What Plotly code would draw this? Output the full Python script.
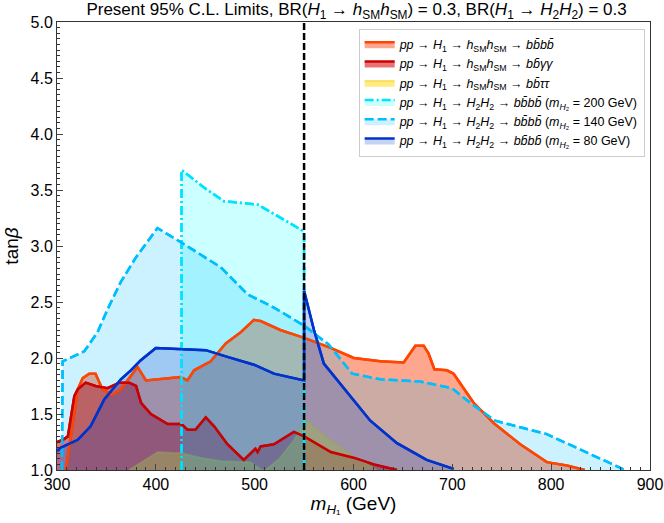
import plotly.graph_objects as go

# ---- data ----
x_bbbb = [309, 315, 321, 326, 332.6, 339, 346, 356, 364.6, 373, 381.5, 390, 425, 432, 438.7, 455.6,
          470.7, 485.9, 499.3, 506, 526, 550, 576.8, 600.3, 627, 650.8, 662.6, 671, 676, 681.8,
          694.6, 701.3, 721.5, 741.7, 768.7, 795.6, 815.9, 834]
y_bbbb = [1.0, 1.35, 1.72, 1.82, 1.86, 1.86, 1.72, 1.67, 1.72, 1.82, 1.92, 1.80, 1.83, 1.80, 1.89, 1.97,
          2.13, 2.23, 2.34, 2.33, 2.25, 2.18, 2.09, 2.00, 1.97, 1.96, 2.11, 2.11, 2.04, 1.90,
          1.89, 1.86, 1.60, 1.42, 1.23, 1.07, 1.04, 1.0]

x_bbgg = [300, 306, 311, 317.5, 321, 329, 339, 351, 363, 373, 380, 385, 395, 412, 426, 432, 440,
          450.5, 459, 472.4, 489, 500.8, 503, 506, 519.5, 539.7, 550, 577, 600, 620.5, 644]
y_bbgg = [1.25, 1.27, 1.30, 1.66, 1.72, 1.78, 1.75, 1.73, 1.78, 1.78, 1.75, 1.60, 1.50, 1.41, 1.41, 1.36, 1.36,
          1.47, 1.39, 1.23, 1.09, 1.19, 1.16, 1.21, 1.23, 1.34, 1.30, 1.16, 1.11, 1.05, 1.0]

x_bbtt = [373, 401.7, 426, 445, 467, 496, 507, 511, 525, 540, 551.5, 575, 600, 624]
y_bbtt = [1.0, 1.16, 1.15, 1.11, 1.08, 1.07, 1.0, 1.0, 1.1, 1.27, 1.45, 1.28, 1.12, 1.0]

x_m200 = [426, 426, 449, 469, 503, 550, 550]
y_m200 = [1.0, 3.68, 3.52, 3.40, 3.37, 3.13, 1.0]

x_m140 = [305, 305.7, 327.6, 341, 352, 364.6, 380, 401.7, 426, 465.7, 492.6, 519.5, 549.8, 575,
          598.7, 627, 667.7, 699.7, 718, 743.4, 795.6, 836, 874.7]
y_m140 = [1.0, 1.97, 2.06, 2.23, 2.45, 2.68, 2.90, 3.16, 3.03, 2.81, 2.57, 2.45, 2.29, 2.12,
          1.86, 1.81, 1.79, 1.73, 1.60, 1.44, 1.32, 1.16, 1.0]

x_m80 = [300, 304, 321, 334, 347.8, 364.6, 374.7, 384.8, 400, 426, 450.5, 472.4, 499.3, 519.5,
         550, 550, 560, 570, 593.6, 617, 644, 674, 701.3]
y_m80 = [1.17, 1.20, 1.27, 1.39, 1.63, 1.81, 1.89, 1.98, 2.09, 2.08, 2.07, 2.01, 1.94, 1.86,
         1.80, 2.60, 2.25, 1.95, 1.69, 1.44, 1.24, 1.09, 1.01]

x_kin = 550  # kinematic threshold line

names = [
    "<i>pp</i> → <i>H</i><sub>1</sub> → <i>h</i><sub>SM</sub><i>h</i><sub>SM</sub> → <i>bb̄bb̄</i>",
    "<i>pp</i> → <i>H</i><sub>1</sub> → <i>h</i><sub>SM</sub><i>h</i><sub>SM</sub> → <i>bb̄γγ</i>",
    "<i>pp</i> → <i>H</i><sub>1</sub> → <i>h</i><sub>SM</sub><i>h</i><sub>SM</sub> → <i>bb̄ττ</i>",
    "<i>pp</i> → <i>H</i><sub>1</sub> → <i>H</i><sub>2</sub><i>H</i><sub>2</sub> → <i>bb̄bb̄</i> (<i>m</i><sub><i>H</i>₂</sub> = 200 GeV)",
    "<i>pp</i> → <i>H</i><sub>1</sub> → <i>H</i><sub>2</sub><i>H</i><sub>2</sub> → <i>bb̄bb̄</i> (<i>m</i><sub><i>H</i>₂</sub> = 140 GeV)",
    "<i>pp</i> → <i>H</i><sub>1</sub> → <i>H</i><sub>2</sub><i>H</i><sub>2</sub> → <i>bb̄bb̄</i> (<i>m</i><sub><i>H</i>₂</sub> = 80 GeV)",
]

# (x, y, line colour, fill colour, dash, line width, redraw line on top)
series = [
    (x_bbbb, y_bbbb, "rgb(255,69,0)", "rgba(255,80,30,0.5)", "solid", 2.5, True),
    (x_bbgg, y_bbgg, "rgb(204,0,0)", "rgba(215,0,0,0.55)", "solid", 2.5, True),
    (x_bbtt, y_bbtt, "rgba(240,200,0,0.45)", "rgba(255,215,0,0.5)", "solid", 1.8, False),
    (x_m200, y_m200, "rgb(0,229,255)", "rgba(0,255,255,0.2)", "9px,3px,2px,3px", 2.5, True),
    (x_m140, y_m140, "rgb(0,191,255)", "rgba(0,191,255,0.2)", "9px,4px", 2.5, True),
    (x_m80, y_m80, "rgb(0,51,204)", "rgba(0,56,202,0.22)", "solid", 2.5, True),
]

fig = go.Figure()
for (xs, ys, lc, fc, dash, lw, top), nm in zip(series, names):
    fig.add_trace(go.Scatter(x=xs, y=ys, mode="lines", fill="tozeroy", fillcolor=fc,
                             line=dict(color=lc, width=lw, dash=dash), name=nm,
                             hoverinfo="skip"))
# lines on top of all fills
for (xs, ys, lc, fc, dash, lw, top) in series:
    if top:
        fig.add_trace(go.Scatter(x=xs, y=ys, mode="lines",
                                 line=dict(color=lc, width=lw, dash=dash),
                                 showlegend=False, hoverinfo="skip"))

fig.add_shape(type="line", xref="x", yref="paper", x0=x_kin, x1=x_kin, y0=0, y1=1,
              line=dict(color="black", width=2.5, dash="7px,3px"), layer="above")

font_family = "Liberation Sans, Arial, sans-serif"
fig.update_layout(
    width=664, height=523,
    margin=dict(l=57, r=14, t=22, b=53, autoexpand=False),
    paper_bgcolor="white", plot_bgcolor="white",
    font=dict(family=font_family, color="black"),
    title=dict(text="Present 95% C.L. Limits, BR(<i>H</i><sub>1</sub> → <i>h</i><sub>SM</sub><i>h</i><sub>SM</sub>) = 0.3, "
                    "BR(<i>H</i><sub>1</sub> → <i>H</i><sub>2</sub><i>H</i><sub>2</sub>) = 0.3",
               x=0.537, xanchor="center", y=0.982, yanchor="middle", yref="container",
               font=dict(size=17), automargin=False),
    legend=dict(x=0.991, xanchor="right", y=0.985, yanchor="top",
                bgcolor="rgba(255,255,255,0.85)", bordercolor="#cccccc", borderwidth=1,
                font=dict(size=12.5), tracegroupgap=0),
    xaxis=dict(range=[300, 900], dtick=100, tick0=300, ticks="inside", ticklen=6,
               tickfont=dict(size=16), showgrid=False, zeroline=False, automargin=False,
               showline=True, linecolor="#333333", linewidth=1, mirror=True,
               minor=dict(ticks="inside", dtick=10, ticklen=3, tickcolor="#333333"),
               title=dict(text="<i>m</i><sub><i>H</i>₁</sub> (GeV)", font=dict(size=19), standoff=4)),
    yaxis=dict(range=[1, 5], dtick=0.5, tick0=1, ticks="inside", ticklen=6,
               tickformat=".1f", tickfont=dict(size=16), showgrid=False, zeroline=False,
               automargin=False,
               showline=True, linecolor="#333333", linewidth=1, mirror=True,
               minor=dict(ticks="inside", dtick=0.05, ticklen=3, tickcolor="#333333"),
               title=dict(text="tan<i>β</i>", font=dict(size=19), standoff=6)),
)

fig.write_html("out.html", config={"displayModeBar": False},
               post_script="document.body.style.margin='0';")
